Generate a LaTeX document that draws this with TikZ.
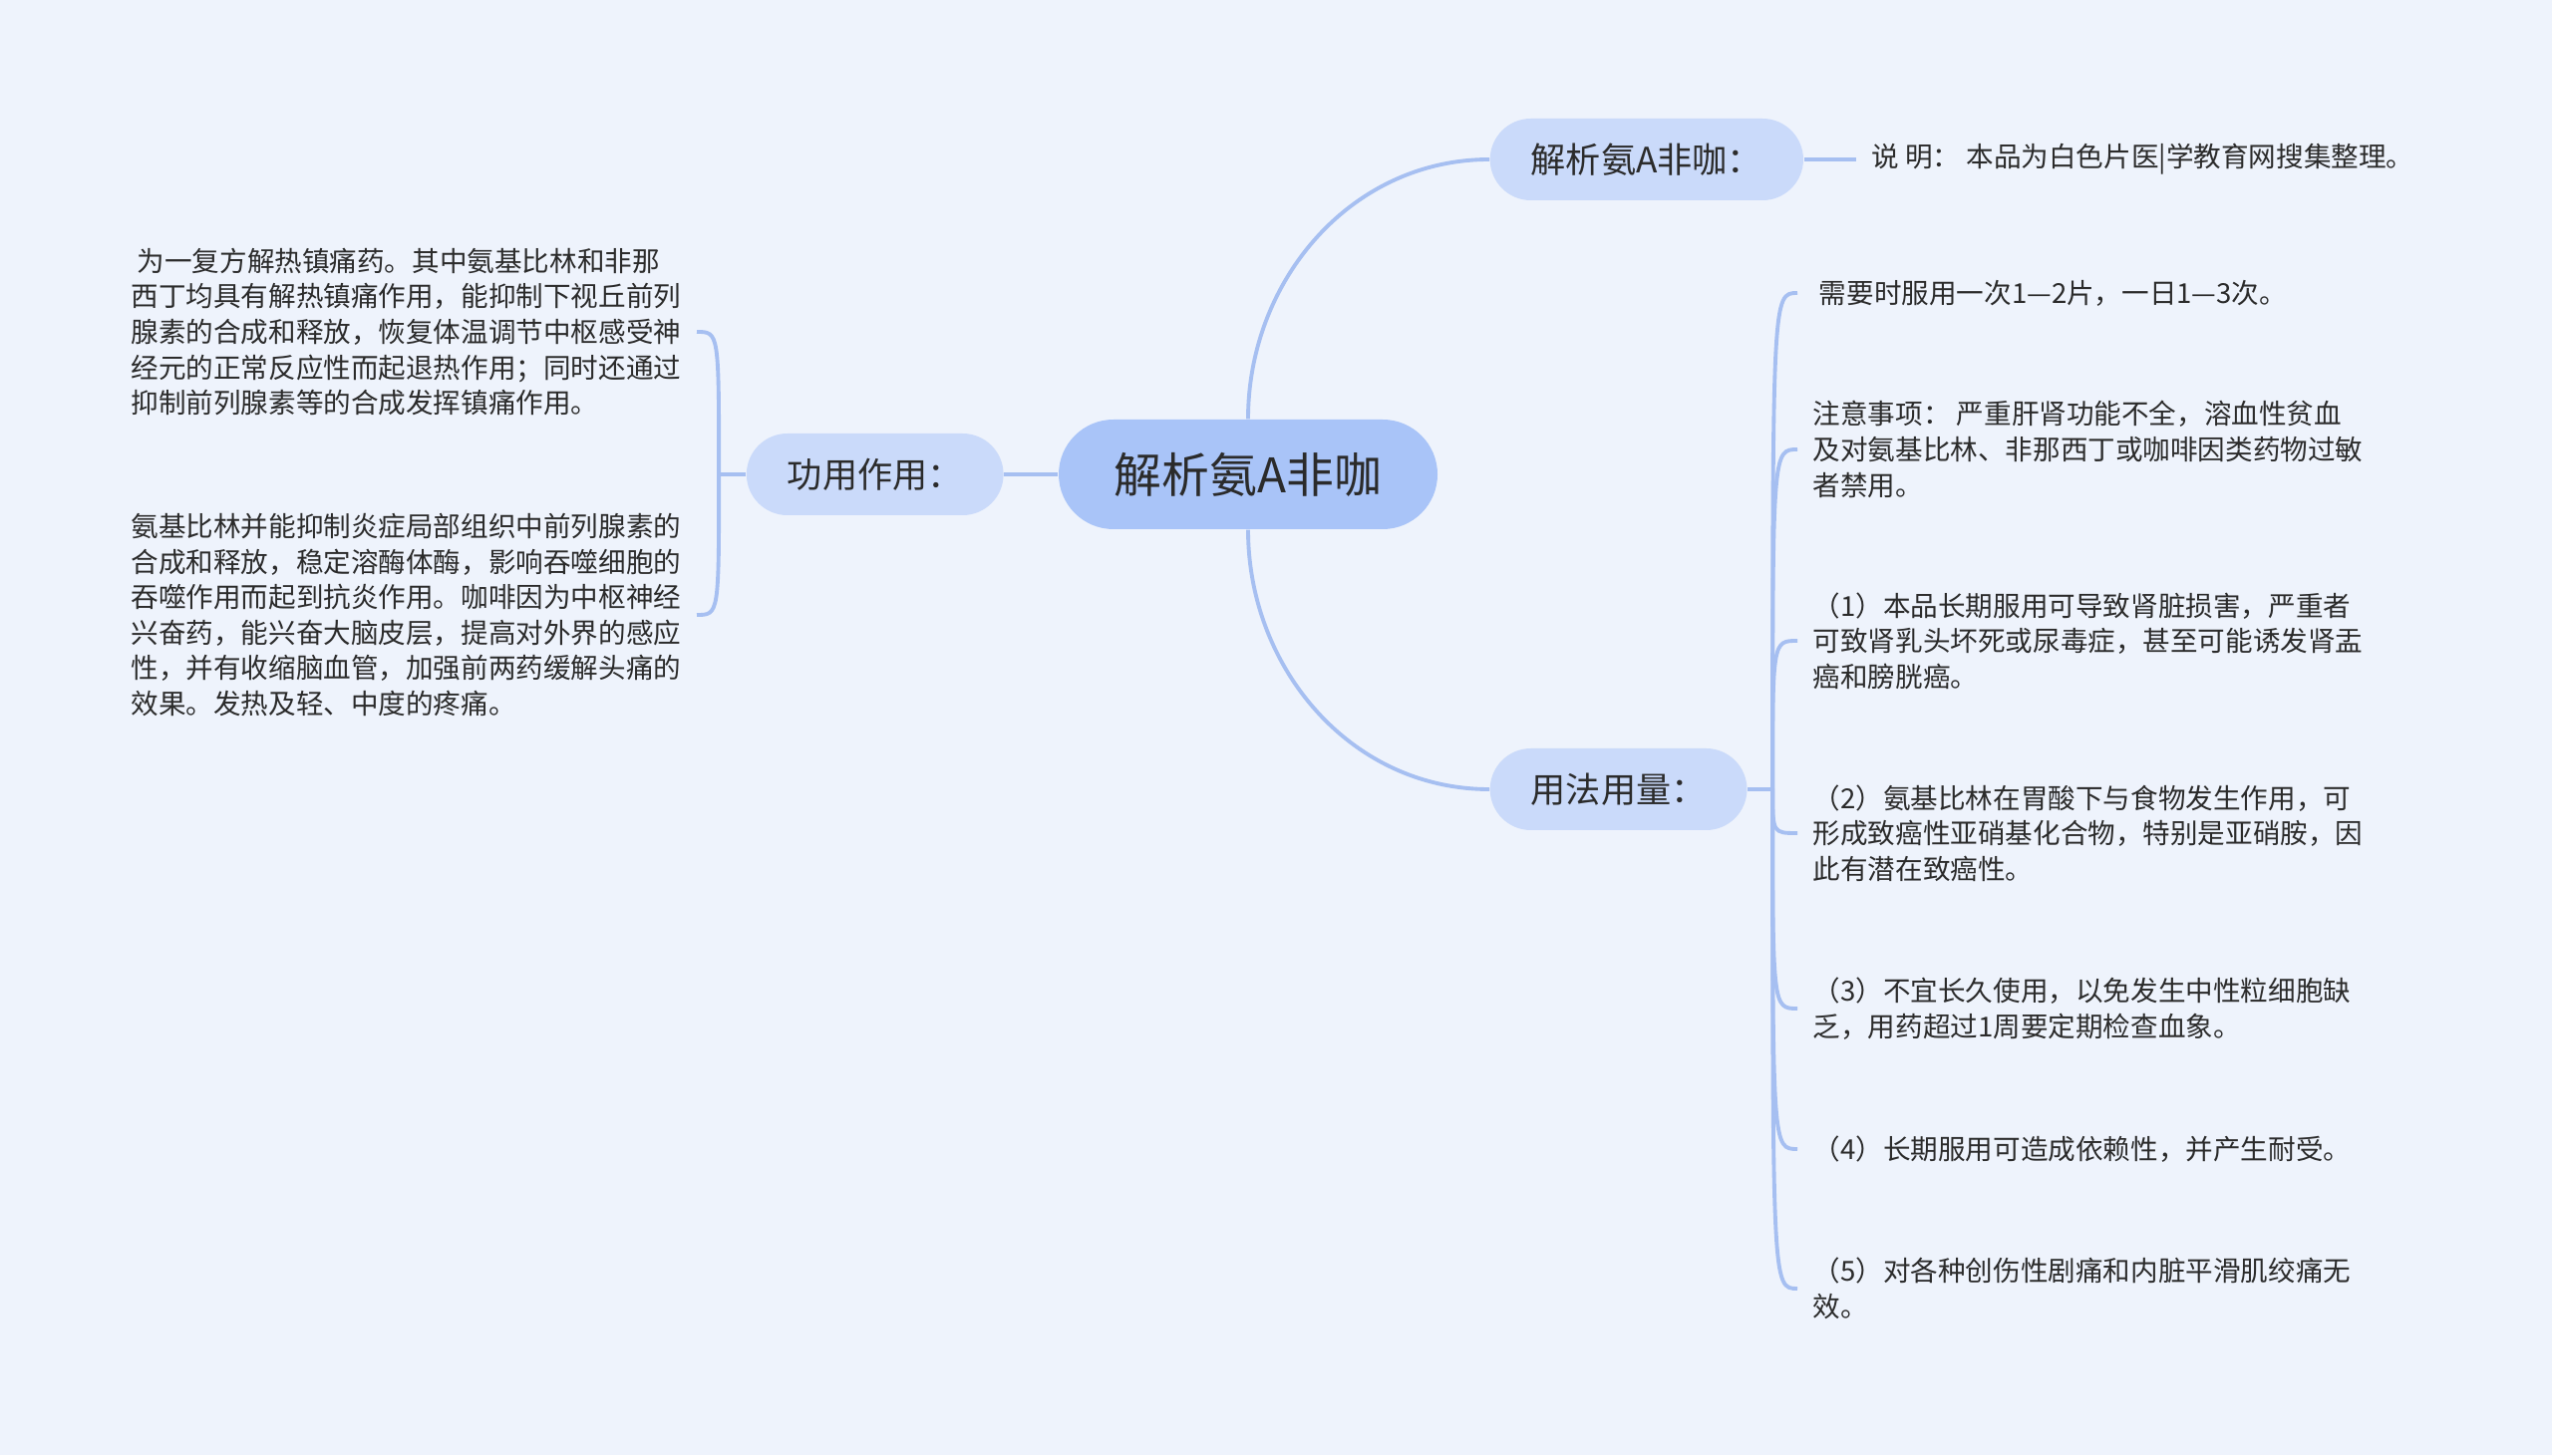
\documentclass[tikz,border=0pt]{standalone}
\usepackage{fontspec}
\setmainfont{Noto Sans CJK SC}
\usepackage{xcolor}
\usetikzlibrary{positioning, calc}
\definecolor{mbg}{HTML}{EEF3FC}
\definecolor{mroot}{HTML}{A9C4F8}
\definecolor{mtopic}{HTML}{CADAFA}
\definecolor{mline}{HTML}{A6BFF1}
\definecolor{mtext}{HTML}{2B2B2B}
\tikzset{
  link/.style={draw=mline, line width=1.1pt},
}

\begin{document}
\begin{tikzpicture}[
  root/.style={fill=mroot, rounded corners=0.55cm, minimum height=1.1cm,
               minimum width=3.8cm, text=mtext,
               font=\fontsize{13.6pt}{16pt}\selectfont},
  topic/.style={fill=mtopic, rounded corners=0.41cm, minimum height=0.82cm,
                inner xsep=0.41cm, text=mtext,
                font=\fontsize{10pt}{12pt}\selectfont},
  leaf/.style={inner xsep=0.15cm, align=left, text=mtext,
               font=\fontsize{7.85pt}{10.13pt}\selectfont}]
  \fill[mbg] (0,0) rectangle (25.6,14.6);
  \useasboundingbox (0,0) rectangle (25.6,14.6);
  % centre and first level
  \node[root] (root) at (12.52,9.84) {解析氨A非咖};
  \node[topic, left=0.54cm of root] (use) {功用作用：};
  \node[topic, anchor=west] (desc) at (14.94,13.0) {解析氨A非咖：};
  \node[topic, anchor=west] (dose) at (14.94,6.68) {用法用量：};
  \draw[link] (root) -- (use);
  \draw[link] (root.north) to[out=90, in=180] (desc.west);
  \draw[link] (root.south) to[out=-90, in=180] (dose.west);
  % left branch
  \coordinate[left=0.27cm of use] (jl);
  \node[leaf, anchor=east] (use1) at (6.99,11.27) {\ 为一复方解热镇痛药。其中氨基比林和非那\\西丁均具有解热镇痛作用，能抑制下视丘前列\\腺素的合成和释放，恢复体温调节中枢感受神\\经元的正常反应性而起退热作用；同时还通过\\抑制前列腺素等的合成发挥镇痛作用。};
  \node[leaf, anchor=east] (use2) at (6.99,8.43) {氨基比林并能抑制炎症局部组织中前列腺素的\\合成和释放，稳定溶酶体酶，影响吞噬细胞的\\吞噬作用而起到抗炎作用。咖啡因为中枢神经\\兴奋药，能兴奋大脑皮层，提高对外界的感应\\性，并有收缩脑血管，加强前两药缓解头痛的\\效果。发热及轻、中度的疼痛。};
  \draw[link] (use) -- (jl);
  \draw[link] (jl) .. controls (jl |- use1.east) .. (use1.east);
  \draw[link] (jl) .. controls (jl |- use2.east) .. (use2.east);
  % description
  \node[leaf, right=0.52cm of desc] (note) {说\ 明：\ 本品为白色片医|学教育网搜集整理。};
  \draw[link] (desc) -- (note);
  % dosage branch
  \coordinate[right=0.25cm of dose] (jr);
  \node[leaf, anchor=west] (d1) at (18.03,11.66) {\ 需要时服用一次1—2片，一日1—3次。};
  \node[leaf, anchor=west] (d2) at (18.03,10.09) {注意事项：\ 严重肝肾功能不全，溶血性贫血\\及对氨基比林、非那西丁或咖啡因类药物过敏\\者禁用。};
  \node[leaf, anchor=west] (d3) at (18.03,8.17) {（1）本品长期服用可导致肾脏损害，严重者\\可致肾乳头坏死或尿毒症，甚至可能诱发肾盂\\癌和膀胱癌。};
  \node[leaf, anchor=west] (d4) at (18.03,6.24) {（2）氨基比林在胃酸下与食物发生作用，可\\形成致癌性亚硝基化合物，特别是亚硝胺，因\\此有潜在致癌性。};
  \node[leaf, anchor=west] (d5) at (18.03,4.48) {（3）不宜长久使用，以免发生中性粒细胞缺\\乏，用药超过1周要定期检查血象。};
  \node[leaf, anchor=west] (d6) at (18.03,3.07) {（4）长期服用可造成依赖性，并产生耐受。};
  \node[leaf, anchor=west] (d7) at (18.03,1.67) {（5）对各种创伤性剧痛和内脏平滑肌绞痛无\\效。};
  \draw[link] (dose) -- (jr);
  \draw[link] (jr) .. controls (jr |- d1.west) .. (d1.west);
  \draw[link] (jr) .. controls (jr |- d2.west) .. (d2.west);
  \draw[link] (jr) .. controls (jr |- d3.west) .. (d3.west);
  \draw[link] (jr) .. controls (jr |- d4.west) .. (d4.west);
  \draw[link] (jr) .. controls (jr |- d5.west) .. (d5.west);
  \draw[link] (jr) .. controls (jr |- d6.west) .. (d6.west);
  \draw[link] (jr) .. controls (jr |- d7.west) .. (d7.west);
\end{tikzpicture}
\end{document}
